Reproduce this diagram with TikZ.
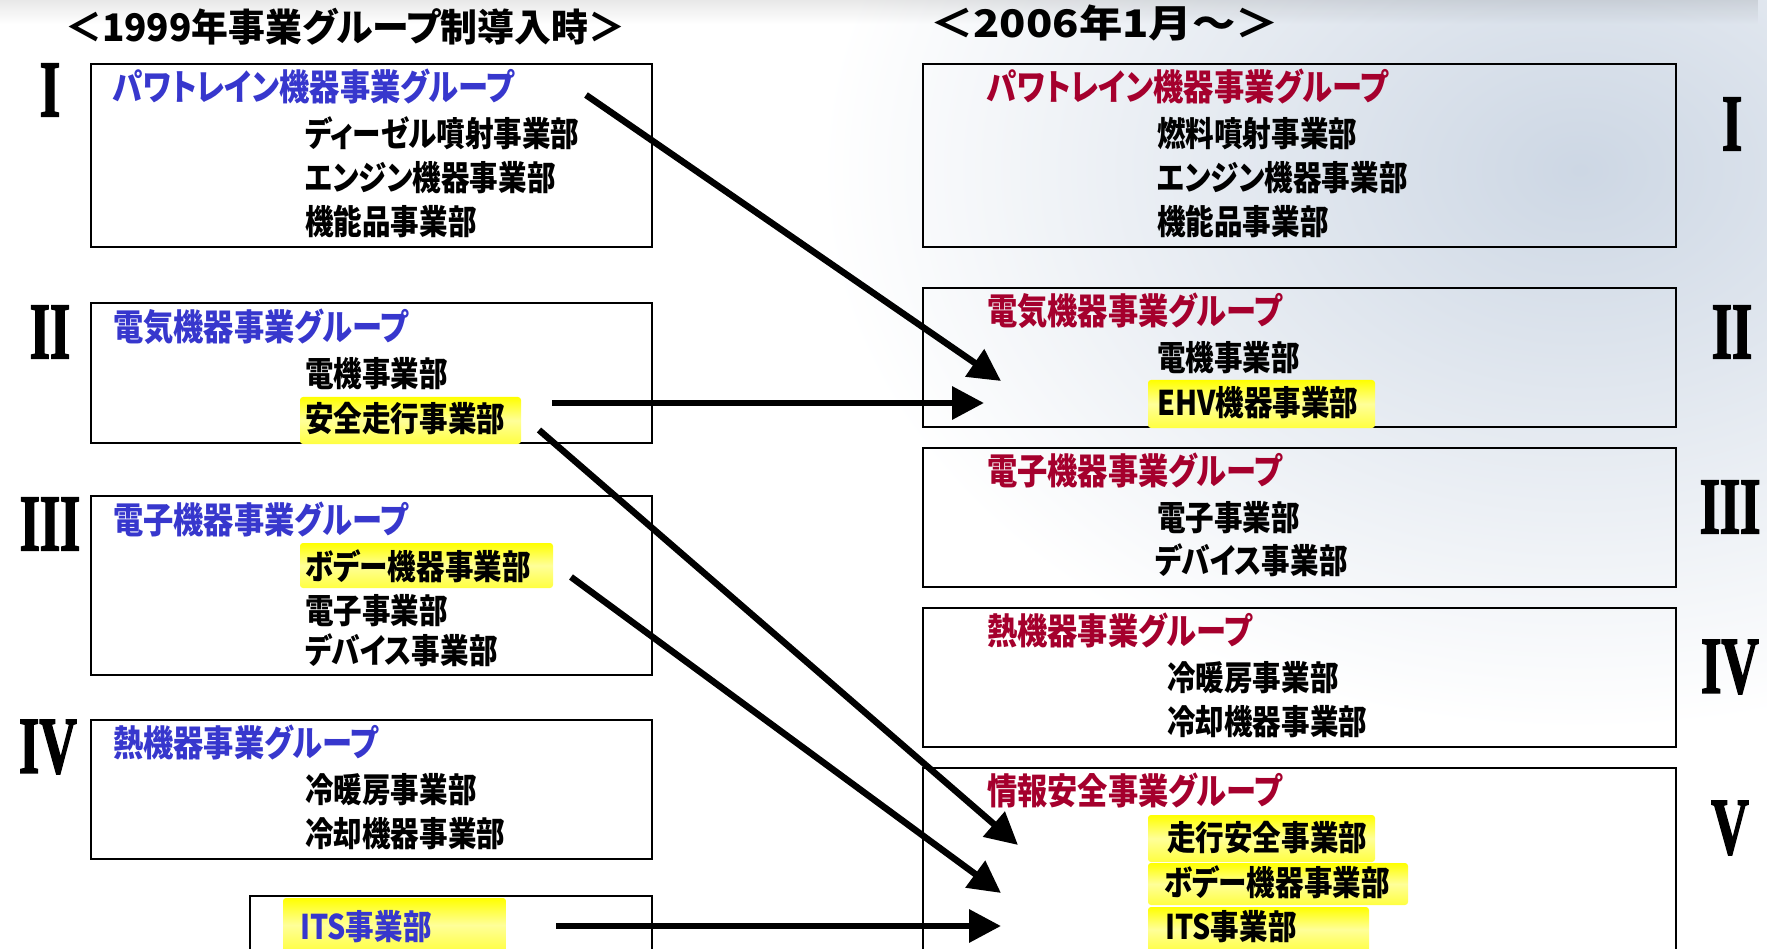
\documentclass[tikz,border=0pt]{standalone}
\usepackage{fontspec}
\usetikzlibrary{arrows.meta,fadings}
\setmainfont{Liberation Serif}
\newfontfamily\romf{Liberation Serif}[UprightFont={* Bold},UprightFeatures={FakeBold=2.5}]
\newfontfamily\jp{Noto Sans CJK JP}[FakeStretch=0.84,RawFeature=+palt]
\newfontfamily\jpt{Noto Sans CJK JP}[FakeStretch=0.97,RawFeature=+palt]
\newfontfamily\jptw{Noto Sans CJK JP}[FakeStretch=1.14,RawFeature=+palt]
\definecolor{grpblue}{RGB}{55,55,205}
\definecolor{grpred}{RGB}{165,0,45}
\definecolor{bgtint}{RGB}{205,215,228}
\begin{document}
\begin{tikzpicture}[x=1pt,y=-1pt,
  box/.style={draw=black,line width=2.2pt,inner sep=0pt,anchor=north west},
  txt/.style={anchor=west,inner sep=0pt,text height=0.83em,text depth=0.07em,yshift=-10pt},
  hdr/.style={txt,font={\jpt\bfseries\fontsize{38}{38}\selectfont}},
  hdrw/.style={txt,font={\jptw\bfseries\fontsize{38}{38}\selectfont}},
  grp/.style={txt,font={\jp\bfseries\fontsize{36}{36}\selectfont}},
  grpL/.style={grp,text=grpblue},
  grpR/.style={grp,text=grpred},
  item/.style={txt,font={\jp\bfseries\fontsize{34}{34}\selectfont}},
  rom/.style={font={\romf\fontsize{80}{80}\selectfont},inner sep=0pt},
  hl/.style={top color=yellow,bottom color=yellow!75!white,middle color=yellow!40!white,rounded corners=3pt},
  arr/.style={line width=6.5pt,-{Triangle[length=32pt,width=32pt]}}
]
\useasboundingbox (0,0) rectangle (1767,949);
\fill[white] (0,0) rectangle (1767,949);
% faint background image tint
\shade[inner color=bgtint,outer color=white] (1580,170) ellipse (760 and 560);
\fill[black,opacity=0.09,path fading=south] (0,0) rectangle (1767,24);

% header titles
\node[hdr] (hL) at (65,28) {＜1999年事業グループ制導入時＞};
\node[hdrw] (hR) at (930,24) {＜2006年1月～＞};

% left boxes
\node[box,minimum width=561pt,minimum height=183pt] (L1) at (90,63) {};
\node[box,minimum width=561pt,minimum height=140pt] (L2) at (90,302) {};
\node[box,minimum width=561pt,minimum height=179pt] (L3) at (90,495) {};
\node[box,minimum width=561pt,minimum height=139pt] (L4) at (90,719) {};
\node[box,minimum width=402pt,minimum height=120pt] (L5) at (249,895) {};

% right boxes
\node[box,minimum width=753pt,minimum height=183pt] (R1) at (922,63) {};
\node[box,minimum width=753pt,minimum height=139pt] (R2) at (922,287) {};
\node[box,minimum width=753pt,minimum height=139pt] (R3) at (922,447) {};
\node[box,minimum width=753pt,minimum height=139pt] (R4) at (922,607) {};
\node[box,minimum width=753pt,minimum height=220pt] (R5) at (922,767) {};

% highlights
\shade[hl] (300,397) rectangle (521,444);
\shade[hl] (300,543) rectangle (553,588);
\shade[hl] (283,898) rectangle (506,952);
\shade[hl] (1148,380) rectangle (1375,428);
\shade[hl] (1148,815) rectangle (1375,862);
\shade[hl] (1148,863) rectangle (1408,905);
\shade[hl] (1148,907) rectangle (1369,952);

% roman numerals
\node[rom] (nL1) at (50,90) {\scalebox{0.65}[1]{I}};
\node[rom] (nL2) at (50,332) {\scalebox{0.65}[1]{II}};
\node[rom] (nL3) at (50,524) {\scalebox{0.65}[1]{III}};
\node[rom] (nL4) at (48,747) {\scalebox{0.65}[1]{IV}};
\node[rom] (nR1) at (1732,124) {\scalebox{0.65}[1]{I}};
\node[rom] (nR2) at (1732,332) {\scalebox{0.65}[1]{II}};
\node[rom] (nR3) at (1730,507) {\scalebox{0.65}[1]{III}};
\node[rom] (nR4) at (1730,667) {\scalebox{0.65}[1]{IV}};
\node[rom] (nR5) at (1730,828) {\scalebox{0.65}[1]{V}};

% left texts
\node[grpL] (tL1) at (113,87) {パワトレイン機器事業グループ};
\node[item] (iL11) at (305,133) {ディーゼル噴射事業部};
\node[item] (iL12) at (305,177) {エンジン機器事業部};
\node[item] (iL13) at (305,221) {機能品事業部};
\node[grpL] (tL2) at (113,327) {電気機器事業グループ};
\node[item] (iL21) at (305,373) {電機事業部};
\node[item] (iL22) at (305,418) {安全走行事業部};
\node[grpL] (tL3) at (113,520) {電子機器事業グループ};
\node[item] (iL31) at (305,566) {ボデー機器事業部};
\node[item] (iL32) at (305,610) {電子事業部};
\node[item] (iL33) at (305,650) {デバイス事業部};
\node[grpL] (tL4) at (113,743) {熱機器事業グループ};
\node[item] (iL41) at (305,789) {冷暖房事業部};
\node[item] (iL42) at (305,833) {冷却機器事業部};
\node[item,text=grpblue] (iL51) at (300,926) {ITS事業部};

% right texts
\node[grpR] (tR1) at (987,87) {パワトレイン機器事業グループ};
\node[item] (iR11) at (1157,133) {燃料噴射事業部};
\node[item] (iR12) at (1157,177) {エンジン機器事業部};
\node[item] (iR13) at (1157,221) {機能品事業部};
\node[grpR] (tR2) at (987,311) {電気機器事業グループ};
\node[item] (iR21) at (1157,357) {電機事業部};
\node[item] (iR22) at (1157,402) {EHV機器事業部};
\node[grpR] (tR3) at (987,471) {電子機器事業グループ};
\node[item] (iR31) at (1157,517) {電子事業部};
\node[item] (iR32) at (1155,560) {デバイス事業部};
\node[grpR] (tR4) at (987,631) {熱機器事業グループ};
\node[item] (iR41) at (1167,677) {冷暖房事業部};
\node[item] (iR42) at (1167,721) {冷却機器事業部};
\node[grpR] (tR5) at (987,791) {情報安全事業グループ};
\node[item] (iR51) at (1167,837) {走行安全事業部};
\node[item] (iR52) at (1164,882) {ボデー機器事業部};
\node[item] (iR53) at (1165,926) {ITS事業部};

% arrow end points
\coordinate (a1s) at (586,95);  \coordinate (a1e) at (1001,381);
\coordinate (a2s) at (552,403); \coordinate (a2e) at (984,403);
\coordinate (a3s) at (539,430); \coordinate (a3e) at (1018,845);
\coordinate (a4s) at (571,577); \coordinate (a4e) at (1001,893);
\coordinate (a5s) at (556,926); \coordinate (a5e) at (1001,926);

\draw[arr] (a1s) -- (a1e);
\draw[arr] (a2s) -- (a2e);
\draw[arr] (a3s) -- (a3e);
\draw[arr] (a4s) -- (a4e);
\draw[arr] (a5s) -- (a5e);
\end{tikzpicture}
\end{document}
